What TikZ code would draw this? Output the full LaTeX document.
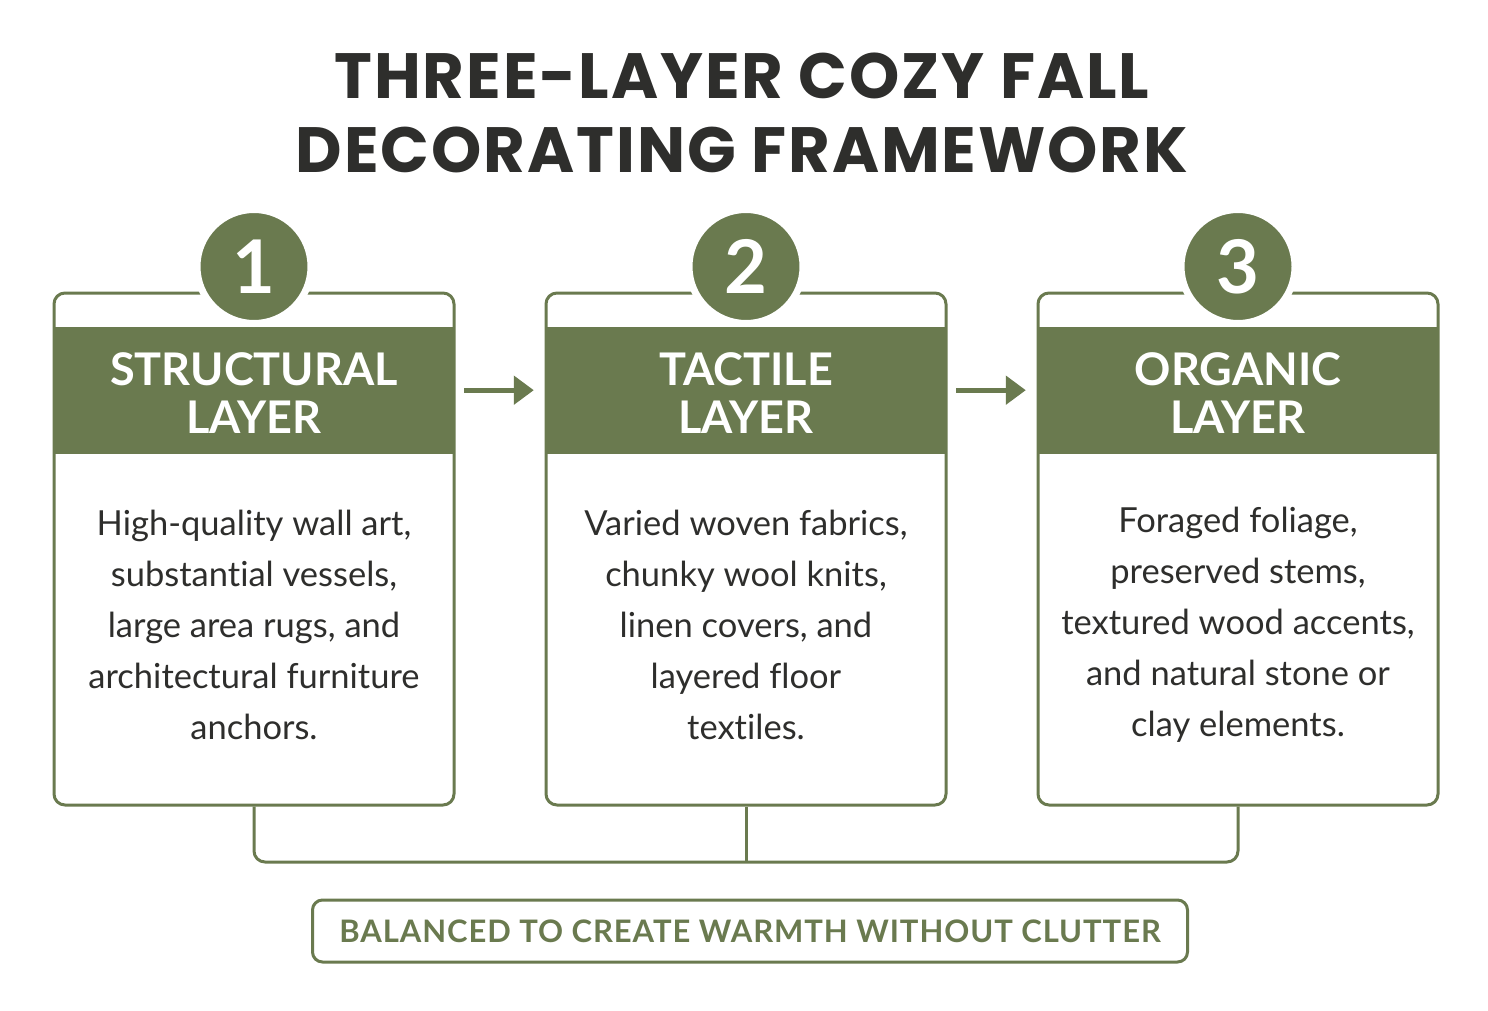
\documentclass[tikz,border=0pt]{standalone}
\usepackage{fontspec}
\setmainfont[Ligatures=NoCommon]{Lato}
\newfontfamily\titlefont[LetterSpace=3]{Poppins}
\newfontfamily\tagfont[LetterSpace=3]{Lato}
\usetikzlibrary{positioning, arrows.meta}

\definecolor{moss}{HTML}{6A7A4F}
\definecolor{ink}{HTML}{2E2E2C}

\tikzset{
  layerbox/.style={draw=moss, line width=3pt, rounded corners=11pt, fill=white,
    minimum width=400pt, minimum height=512pt, inner sep=0pt},
  header/.style={fill=moss, minimum width=400pt, minimum height=127pt, inner sep=0pt},
  headtext/.style={text=white, align=center, inner sep=0pt,
    font=\fontsize{45}{48}\selectfont\bfseries},
  badge/.style={circle, fill=moss, draw=white, line width=7pt, minimum size=114pt,
    inner sep=0pt, text=white, font=\fontsize{74}{74}\selectfont\bfseries},
  body/.style={text=ink, align=center, font=\fontsize{34.5}{51}\selectfont},
  flow/.style={moss, line width=5pt, -{Triangle[length=20pt, width=28pt]}},
  bracket/.style={moss, line width=3pt, rounded corners=11pt},
}

\begin{document}
\begin{tikzpicture}[x=1pt, y=-1pt]
  \useasboundingbox[fill=white] (0,0) rectangle (1488,1011);

  % Title
  \node[text=ink, align=center, font=\titlefont\fontsize{64}{74}\selectfont\bfseries]
    (title) at (742,113) {THREE-LAYER COZY FALL\\DECORATING FRAMEWORK};

  % Layer boxes
  \node[layerbox] (b1) at (254,549) {};
  \node[layerbox, right=89pt of b1] (b2) {};
  \node[layerbox, right=89pt of b2] (b3) {};

  % Headers
  \node[header, below=35pt of b1.north] (h1) {};
  \node[header, below=35pt of b2.north] (h2) {};
  \node[header, below=35pt of b3.north] (h3) {};
  \node[headtext] (t1) at ([yshift=-3pt]h1.center) {STRUCTURAL\\LAYER};
  \node[headtext] (t2) at ([yshift=-3pt]h2.center) {TACTILE\\LAYER};
  \node[headtext] (t3) at ([yshift=-3pt]h3.center) {ORGANIC\\LAYER};

  % Number badges
  \node[badge] (n1) at ([yshift=25pt]b1.north) {1};
  \node[badge] (n2) at ([yshift=25pt]b2.north) {2};
  \node[badge] (n3) at ([yshift=25pt]b3.north) {3};

  % Descriptions
  \node[body] (d1) at (b1.center |- 0,625) {High-quality wall art,\\substantial vessels,\\large area rugs, and\\architectural furniture\\anchors.};
  \node[body] (d2) at (b2.center |- 0,625) {Varied woven fabrics,\\chunky wool knits,\\linen covers, and\\layered floor\\textiles.};
  \node[body] (d3) at (b3.center |- 0,625) {Foraged foliage,\\preserved stems,\\textured wood accents,\\and natural stone or\\clay elements.};

  % Flow arrows
  \draw[flow, shorten <=10pt, shorten >=12pt] (h1.east) -- (h2.west);
  \draw[flow, shorten <=10pt, shorten >=12pt] (h2.east) -- (h3.west);

  % Bracket joining the layers
  \coordinate (join) at (b2.south |- 0,862);
  \draw[bracket] (b1.south) |- (join) -| (b3.south);
  \draw[bracket] (b2.south) -- (join);

  % Summary tag
  \node[draw=moss, line width=3pt, rounded corners=10pt, minimum width=875pt,
    minimum height=62pt, inner sep=0pt, text=moss,
    font=\tagfont\fontsize{31}{31}\selectfont\bfseries]
    (tag) at (750,931) {BALANCED TO CREATE WARMTH WITHOUT CLUTTER};
\end{tikzpicture}
\end{document}
